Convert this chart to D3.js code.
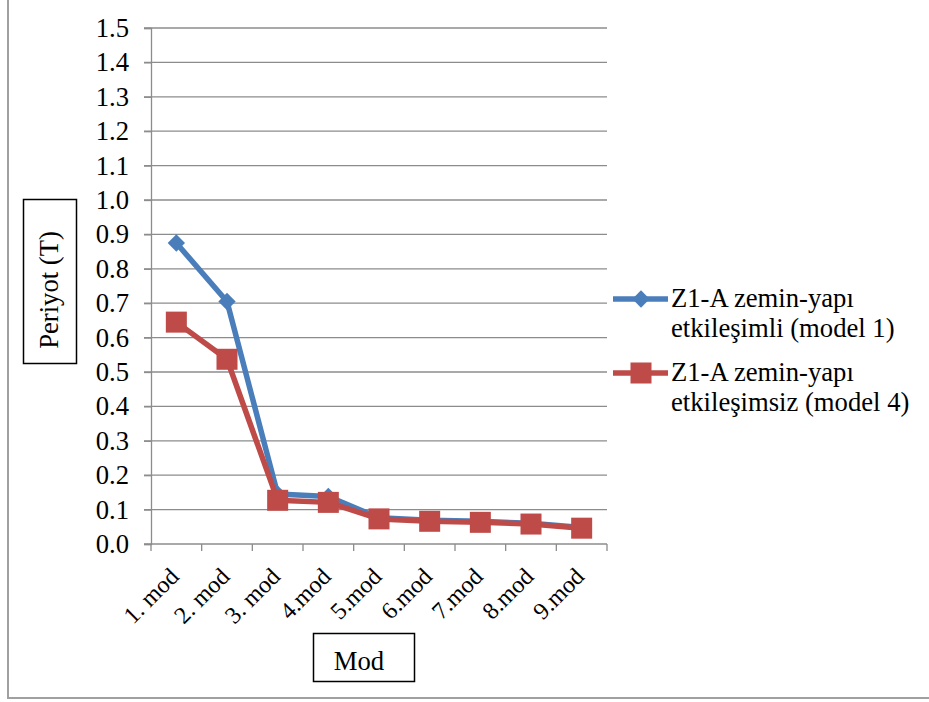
<!DOCTYPE html>
<html>
<head>
<meta charset="utf-8">
<script src="https://cdn.jsdelivr.net/npm/d3@7"></script>
<style>
  html, body { margin: 0; padding: 0; background: #fff; }
  svg { display: block; }
  svg text { font-family: "Liberation Serif", "Times New Roman", serif; }
</style>
</head>
<body>
<svg id="chart" width="929" height="702"></svg>
<script>
// Modal periods for the Z1-A building, with and without soil-structure interaction
const categories = ["1. mod", "2. mod", "3. mod", "4.mod", "5.mod", "6.mod", "7.mod", "8.mod", "9.mod"];
const withSSI    = [0.875, 0.705, 0.145, 0.138, 0.076, 0.069, 0.066, 0.060, 0.048];
const withoutSSI = [0.645, 0.537, 0.127, 0.121, 0.073, 0.066, 0.063, 0.058, 0.046];
const yTicks = [0.0, 0.1, 0.2, 0.3, 0.4, 0.5, 0.6, 0.7, 0.8, 0.9, 1.0, 1.1, 1.2, 1.3, 1.4, 1.5];
const seriesNames = [
  ["Z1-A zemin-yapı", "etkileşimli (model 1)"],
  ["Z1-A zemin-yapı", "etkileşimsiz (model 4)"]
];
const yTitle = "Periyot (T)";
const xTitle = "Mod";

const FONT = "'Liberation Serif', 'Times New Roman', serif";
const FS = 26.67;   // 20pt
const FS_X = 24;    // 18pt, category labels
const svg = d3.select("#chart");
const plot = { left: 151, right: 607, top: 28, bottom: 544 };

const x = d3.scaleBand().domain(categories).range([plot.left, plot.right]).padding(0);
const y = d3.scaleLinear().domain([0, 1.5]).range([plot.bottom, plot.top]);

// chart frame
svg.append("rect")
  .attr("x", 8).attr("y", -10)
  .attr("width", 940).attr("height", 708)
  .attr("fill", "none").attr("stroke", "#a0a0a0").attr("stroke-width", 2);

// horizontal gridlines with outward ticks
svg.append("g")
  .selectAll("line")
  .data(yTicks.slice(1))
  .join("line")
  .attr("x1", plot.left - 7).attr("x2", plot.right)
  .attr("y1", d => y(d)).attr("y2", d => y(d))
  .attr("stroke", "#8c8c8c").attr("stroke-width", 1.3);

// y axis
const yAxis = svg.append("g")
  .attr("transform", `translate(${plot.left},0)`)
  .call(d3.axisLeft(y).tickValues(yTicks).tickFormat(d3.format(".1f")).tickSize(7).tickPadding(15));
yAxis.attr("font-family", FONT);
yAxis.select(".domain").attr("stroke", "#8c8c8c").attr("stroke-width", 1.3);
yAxis.selectAll(".tick line").attr("stroke", "#8c8c8c").attr("stroke-width", 1.3);
yAxis.selectAll("text")
  .attr("font-family", FONT)
  .attr("font-size", FS).attr("fill", "#000");

// x axis with ticks at category boundaries
const xAxisG = svg.append("g").attr("transform", `translate(0,${plot.bottom})`);
xAxisG.append("line")
  .attr("x1", plot.left - 7).attr("x2", plot.right)
  .attr("y1", 0).attr("y2", 0)
  .attr("stroke", "#8c8c8c").attr("stroke-width", 1.3);
const bounds = categories.map(c => x(c)).concat([x(categories[categories.length - 1]) + x.bandwidth()]);
xAxisG.selectAll("line.tick")
  .data(bounds)
  .join("line")
  .attr("class", "tick")
  .attr("x1", d => d).attr("x2", d => d)
  .attr("y1", 0).attr("y2", 7)
  .attr("stroke", "#8c8c8c").attr("stroke-width", 1.3);
xAxisG.selectAll("text")
  .data(categories)
  .join("text")
  .attr("transform", d => `translate(${x(d) + x.bandwidth() / 2 - 2},${28}) rotate(-45)`)
  .attr("text-anchor", "end")
  .attr("dy", "0.35em")
  .attr("font-family", FONT)
  .attr("font-size", FS_X)
  .attr("fill", "#000")
  .text(d => d);

// series
const series = [
  { values: withSSI, color: "#4a7ebb", marker: "diamond" },
  { values: withoutSSI, color: "#be4b48", marker: "square" }
];
const cx = d => x(d) + x.bandwidth() / 2;
const line = d3.line().x((d, i) => cx(categories[i])).y(d => y(d));

function drawMarker(sel, type, color) {
  if (type === "diamond") {
    sel.append("path")
      .attr("d", d3.symbol(d3.symbolSquare, 150)())
      .attr("transform", "rotate(45)")
      .attr("fill", color);
  } else {
    sel.append("rect")
      .attr("x", -10.5).attr("y", -10.5).attr("width", 21).attr("height", 21)
      .attr("fill", color);
  }
}

series.forEach(s => {
  svg.append("path")
    .datum(s.values)
    .attr("d", line)
    .attr("fill", "none")
    .attr("stroke", s.color)
    .attr("stroke-width", 5.5)
    .attr("stroke-linejoin", "round");
  svg.append("g")
    .selectAll("g")
    .data(s.values)
    .join("g")
    .attr("transform", (d, i) => `translate(${cx(categories[i])},${y(d)})`)
    .each(function () { drawMarker(d3.select(this), s.marker, s.color); });
});

// legend
const legend = svg.append("g");
[299, 373].forEach((ly, i) => {
  const g = legend.append("g").attr("transform", `translate(0,${ly})`);
  g.append("line")
    .attr("x1", 613).attr("x2", 668)
    .attr("stroke", series[i].color).attr("stroke-width", 5.5);
  const m = g.append("g").attr("transform", "translate(641,0)");
  drawMarker(m, series[i].marker, series[i].color);
  const t = g.append("text")
    .attr("x", 671).attr("y", 8)
    .attr("font-family", FONT)
    .attr("font-size", FS).attr("fill", "#000");
  t.append("tspan").attr("x", 671).attr("dy", 0).text(seriesNames[i][0]);
  t.append("tspan").attr("x", 671).attr("dy", 30).text(seriesNames[i][1]);
});

// axis title boxes
svg.append("rect")
  .attr("x", 23.5).attr("y", 199.5).attr("width", 53).attr("height", 164)
  .attr("fill", "#fff").attr("stroke", "#000").attr("stroke-width", 1.5);
svg.append("text")
  .attr("transform", "translate(49,290) rotate(-90)")
  .attr("text-anchor", "middle")
  .attr("dy", "0.35em")
  .attr("font-family", FONT)
  .attr("font-size", FS).attr("fill", "#000")
  .text(yTitle);

svg.append("rect")
  .attr("x", 313.5).attr("y", 633.5).attr("width", 101).attr("height", 48)
  .attr("fill", "#fff").attr("stroke", "#000").attr("stroke-width", 1.5);
svg.append("text")
  .attr("x", 359).attr("y", 670)
  .attr("text-anchor", "middle")
  .attr("font-family", FONT)
  .attr("font-size", FS).attr("fill", "#000")
  .text(xTitle);
</script>
</body>
</html>
